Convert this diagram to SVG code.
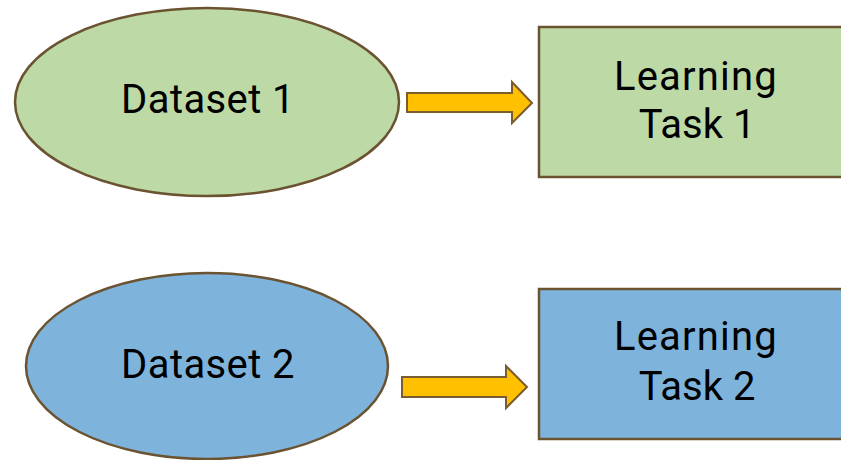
<svg xmlns="http://www.w3.org/2000/svg" width="841" height="460" viewBox="0 0 841 460">
  <style>
    .node { stroke: #6b5331; stroke-width: 2.5; }
    .green { fill: #bdd9a6; }
    .blue { fill: #7eb4dc; }
    .arrow { fill: #ffc000; stroke: #7a5c2e; stroke-width: 2; stroke-linejoin: miter; }
    .label { font-family: Roboto, "Liberation Sans", sans-serif; font-size: 40px; fill: #000; text-anchor: middle; }
    .wide { letter-spacing: 1.2px; }
    .mid { letter-spacing: 0.4px; }
  </style>
  <rect width="841" height="460" fill="#ffffff"/>

  <g id="dataset1">
    <ellipse class="node green" cx="207" cy="102" rx="192" ry="94"/>
    <text class="label mid" x="208" y="113">Dataset 1</text>
  </g>

  <g id="task1">
    <rect class="node green" x="539" y="27" width="320" height="150"/>
    <text class="label wide" x="696" y="90">Learning</text>
    <text class="label" x="697" y="138">Task 1</text>
  </g>

  <g id="dataset2">
    <ellipse class="node blue" cx="207" cy="366" rx="181" ry="93"/>
    <text class="label mid" x="208" y="378">Dataset 2</text>
  </g>

  <g id="task2">
    <rect class="node blue" x="539" y="289" width="320" height="150"/>
    <text class="label wide" x="696" y="350">Learning</text>
    <text class="label" x="697" y="400">Task 2</text>
  </g>

  <g id="connectors">
    <path class="arrow" d="M407 93 H512 V82 L532 103 L512 123 V112 H407 Z"/>
    <path class="arrow" d="M402 377 H506 V366 L527 387 L506 408 V397 H402 Z"/>
  </g>
</svg>
